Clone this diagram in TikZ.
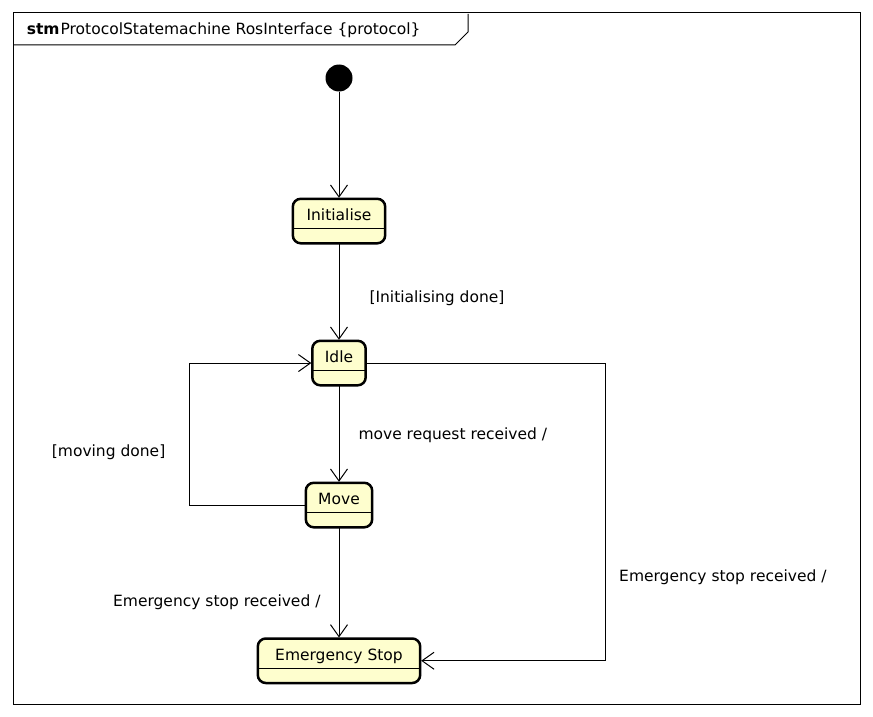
\documentclass[tikz,border=0pt]{standalone}
\usepackage{fontspec}
\setmainfont{DejaVu Sans}
\usetikzlibrary{arrows.meta, positioning}
\definecolor{stateyellow}{HTML}{FEFECE}

\begin{document}
\begin{tikzpicture}[
	> = {Straight Barb[length=12pt, width=17pt]}, % open arrow head
	shorten > = 1pt, % don't touch arrow head to node
	x = 1pt, y = 1pt,
	line width = 1pt, % line style
	font = \fontsize{15.5}{18}\selectfont
	]
	\useasboundingbox (0,0) rectangle (873,-717);
	
	\tikzstyle{statebox}=[
	draw = black,
	line width = 2.5pt,
	fill = stateyellow,
	rounded corners = 8pt,
	outer sep = 0pt,
	inner xsep = 12pt,
	inner ysep = 0pt,
	text height = 22pt,
	text depth = 22.5pt,
	path picture = {\draw[line width=1pt] ([yshift=-29.5pt]path picture bounding box.north west) -- ([yshift=-29.5pt]path picture bounding box.north east);}
	]
	\tikzstyle{initstate}=[
	circle,
	fill = black,
	minimum size = 27pt,
	outer sep = 0pt,
	inner sep = 0pt
	]
	\tikzstyle{elabel}=[inner sep = 0pt]
	
	% frame
	\draw (13,-13) rectangle (860,-704);
	\draw (13,-45) -- (455,-45) -- (468,-32) -- (468,-13);
	\node[anchor=west] (title) at (23,-30) {\textbf{stm}\kern1pt ProtocolStatemachine RosInterface \{protocol\}};
	
	\node[initstate] (start) at (339,-78) {};
	\node[statebox, minimum width=92.4pt] (init) [below=107.3pt of start] {Initialise};
	\node[statebox, minimum width=53.4pt] (idle) [below=97.5pt of init] {Idle};
	\node[statebox, minimum width=66.4pt] (move) [below=97.5pt of idle] {Move};
	\node[statebox, minimum width=162.4pt] (emerg) [below=111.2pt of move] {Emergency Stop};
	
	\path[->] (start) edge (init);
	\path[->] (init) edge node[pos=0.566, right=30pt, elabel] {[Initialising done]} (idle);
	\path[->] (idle) edge node[pos=0.515, right=19pt, elabel] {move request received /} (move);
	\path[->] (move) edge node[pos=0.676, left=18pt, elabel] {Emergency stop received /} (emerg);
	\draw[->] (move.west) -- ++(-116,0) |- node[pos=0.185, left=24pt, elabel] {[moving done]} (idle.west);
	\draw[->] (idle.east) -- ++(240,0) |- node[pos=0.359, right=13pt, elabel] {Emergency stop received /} (emerg.east);
	
\end{tikzpicture}
\end{document}
